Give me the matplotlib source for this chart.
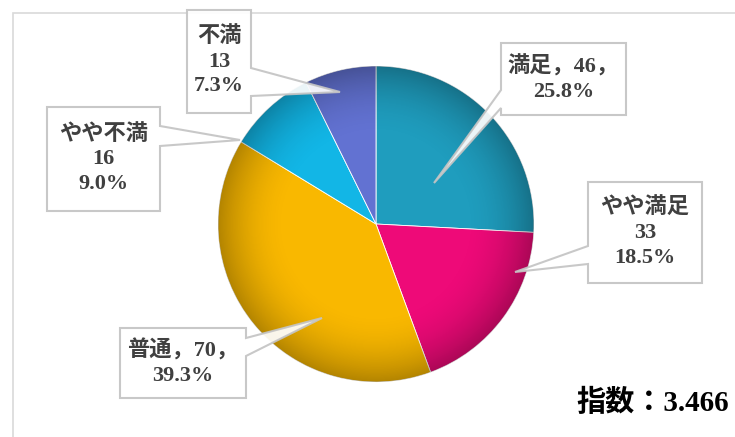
import matplotlib
matplotlib.use("Agg")
import numpy as np
import matplotlib.pyplot as plt
from matplotlib.patches import Polygon, Rectangle, Circle

categories = ["満足", "やや満足", "普通", "やや不満", "不満"]
counts = [46, 33, 70, 16, 13]
colors = ["#1F9DBE", "#EE0A78", "#F9B800", "#12B6E6", "#6272D2"]
index_label = "指数：3.466"
inline_style = [True, False, True, False, False]

total = sum(counts)
pcts = [c / total * 100 for c in counts]

W, H = 735, 437
fig = plt.figure(figsize=(W / 100, H / 100), dpi=100)
ax = fig.add_axes([0, 0, 1, 1])

def Y(y):
    return H - y

cx, cy, r = 376, 224, 158
wedges, _ = ax.pie(counts, colors=colors, startangle=90, counterclock=False,
                   center=(cx, Y(cy)), radius=r,
                   wedgeprops=dict(edgecolor="white", linewidth=0.6))
ax.set_xlim(0, W)
ax.set_ylim(0, H)
ax.set_aspect("equal")
ax.axis("off")

# subtle 3D-like shading over the pie
n = 300
xs = np.linspace(-1, 1, n)
XX, YY = np.meshgrid(xs, xs)
RR = np.sqrt(XX ** 2 + YY ** 2)
shade = np.zeros((n, n, 4))
dark = np.clip((RR - 0.55) / 0.45, 0, 1) ** 2 * 0.28
shade[..., 3] = dark
im = ax.imshow(shade, extent=(cx - r, cx + r, Y(cy) - r, Y(cy) + r),
               origin="lower", zorder=2, interpolation="bilinear")
clip = Circle((cx, Y(cy)), r, transform=ax.transData)
im.set_clip_path(clip)
ax.set_xlim(0, W)
ax.set_ylim(0, H)

# outer frame
ax.add_patch(Rectangle((13, Y(437 + 5)), W, 437 + 5 - 13, fill=False,
                       edgecolor="#d9d9d9", linewidth=1.2, zorder=0))

# box layout: (x0, x1, y0, y1), side of callout, base (b1, b2), apex (x, y) in image px
layout = [
    ((501, 626, 43, 115), "left", (90, 108), (434, 183)),
    ((588, 702, 182, 283), "left", (246, 264), (515, 272)),
    ((120, 246, 328, 398), "right", (338, 356), (322, 318)),
    ((47, 160, 107, 211), "right", (126, 146), (240, 140)),
    ((187, 251, 10, 113), "right", (68, 96), (340, 92)),
]

fam = ["Liberation Serif", "Noto Sans CJK JP"]
for i, (cat, n_, p) in enumerate(zip(categories, counts, pcts)):
    (x0, x1, y0, y1), side, (b1, b2), (ax_, ay_) = layout[i]
    if side == "left":
        pts = [(x0, y0), (x1, y0), (x1, y1), (x0, y1), (x0, b2), (ax_, ay_), (x0, b1)]
    else:
        pts = [(x0, y0), (x1, y0), (x1, b1), (ax_, ay_), (x1, b2), (x1, y1), (x0, y1)]
    pts = [(x, Y(y)) for x, y in pts]
    ax.add_patch(Polygon(pts, closed=True, facecolor="white", edgecolor="#c4c4c4",
                         linewidth=1.5, alpha=0.92, zorder=5))
    if inline_style[i]:
        label = f"{cat}，{n_}，\n{p:.1f}%"
    else:
        label = f"{cat}\n{n_}\n{p:.1f}%"
    ax.text((x0 + x1) / 2, Y((y0 + y1) / 2), label, ha="center", va="center",
            fontsize=16, color="#404040", family=fam, fontweight="bold",
            linespacing=1.3, zorder=6)

ax.text(729, Y(403), index_label, ha="right", va="center", fontsize=21,
        color="black", family=fam, fontweight="bold", zorder=6)

fig.savefig("out.png", dpi=100)
